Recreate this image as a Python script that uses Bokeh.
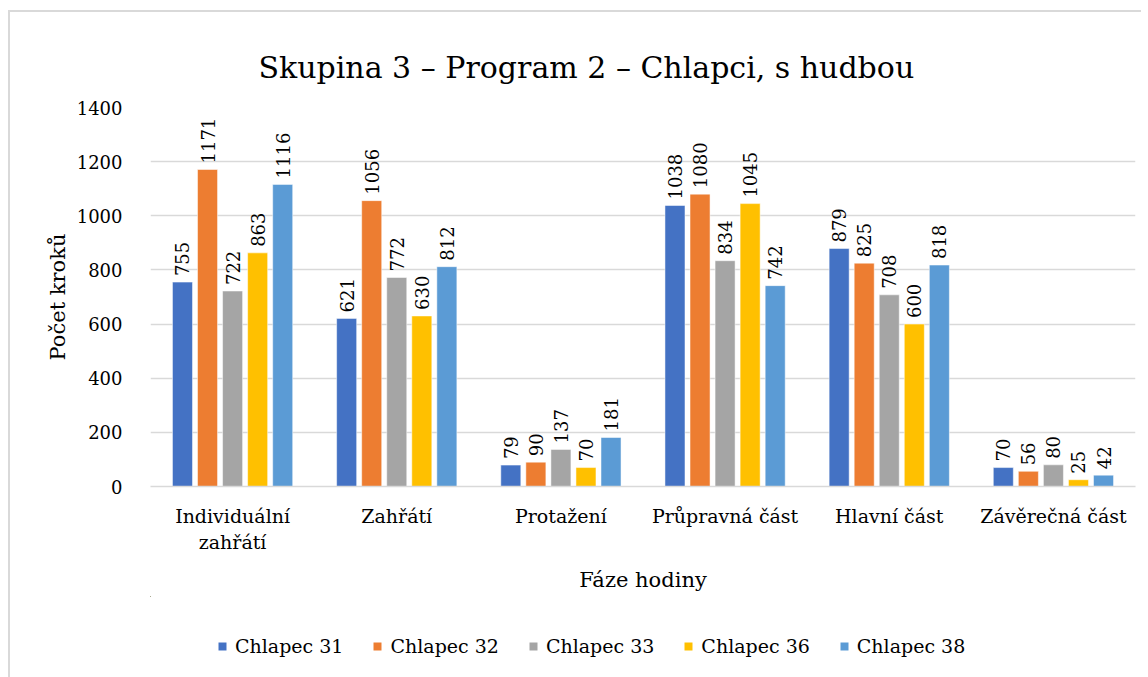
import math
from bokeh.plotting import figure
from bokeh.layouts import column
from bokeh.models import Range1d, FixedTicker, Legend, LegendItem, ColumnDataSource
from bokeh.core.properties import value
from bokeh.embed import file_html
from bokeh.resources import INLINE

categories = ["Individuální\nzahřátí", "Zahřátí", "Protažení", "Průpravná část", "Hlavní část", "Závěrečná část"]
series_names = ["Chlapec 31", "Chlapec 32", "Chlapec 33", "Chlapec 36", "Chlapec 38"]
chlapec_31 = [755, 621, 79, 1038, 879, 70]
chlapec_32 = [1171, 1056, 90, 1080, 825, 56]
chlapec_33 = [722, 772, 137, 834, 708, 80]
chlapec_36 = [863, 630, 70, 1045, 600, 25]
chlapec_38 = [1116, 812, 181, 742, 818, 42]
series_values = [chlapec_31, chlapec_32, chlapec_33, chlapec_36, chlapec_38]
colors = ["#4472C4", "#ED7D31", "#A5A5A5", "#FFC000", "#5B9BD5"]
y_ticks = [0, 200, 400, 600, 800, 1000, 1200, 1400]

FONT = "DejaVu Serif"

p = figure(frame_width=983, frame_height=377, output_backend="svg", toolbar_location=None,
           x_range=Range1d(0, len(categories)), y_range=Range1d(0, 1400),
           min_border_left=140, min_border_right=8, min_border_top=95, min_border_bottom=112)
p.styles = {"margin-left": "8px", "margin-top": "10px",
            "border-top": "2px solid #d9d9d9", "border-left": "2px solid #d9d9d9"}

p.title.text = "Skupina 3 – Program 2 – Chlapci, s hudbou"
p.title.text_font = FONT
p.title.text_font_size = "30px"
p.title.text_font_style = "normal"
p.title.align = "left"
p.title.offset = 108
p.title.standoff = 46
p.title.text_color = "#000000"

p.outline_line_color = None
p.xgrid.grid_line_color = None
p.ygrid.grid_line_color = "#d9d9d9"
p.ygrid.grid_line_width = 1.5

p.yaxis.ticker = FixedTicker(ticks=y_ticks)
p.yaxis.axis_line_color = None
p.yaxis.major_tick_line_color = None
p.yaxis.minor_tick_line_color = None
p.yaxis.major_label_text_font = FONT
p.yaxis.major_label_text_font_size = "18px"
p.yaxis.major_label_text_color = "#000000"
p.yaxis.major_label_standoff = 22
p.yaxis.axis_label = "Počet kroků"
p.yaxis.axis_label_text_font = FONT
p.yaxis.axis_label_text_font_size = "21px"
p.yaxis.axis_label_text_font_style = "normal"
p.yaxis.axis_label_text_color = "#000000"
p.yaxis.axis_label_standoff = 4

centers = [i + 0.5 for i in range(len(categories))]
p.xaxis.ticker = FixedTicker(ticks=centers)
p.xaxis.major_label_overrides = {c: lab for c, lab in zip(centers, categories)}
p.xaxis.axis_line_color = "#d9d9d9"
p.xaxis.axis_line_width = 1.5
p.xaxis.major_tick_line_color = None
p.xaxis.minor_tick_line_color = None
p.xaxis.major_label_text_font = FONT
p.xaxis.major_label_text_font_size = "19px"
p.xaxis.major_label_text_color = "#000000"
p.xaxis.major_label_standoff = 12
p.xaxis.axis_label = "Fáze hodiny"
p.xaxis.axis_label_text_font = FONT
p.xaxis.axis_label_text_font_size = "21px"
p.xaxis.axis_label_text_font_style = "normal"
p.xaxis.axis_label_text_color = "#000000"
p.xaxis.axis_label_standoff = 12

# legend strip below the chart (own figure so that the legend is not clipped)
leg = figure(width=1131, height=81, output_backend="svg", toolbar_location=None,
             x_range=Range1d(100, 101), y_range=Range1d(-2, -1),
             x_axis_location=None, y_axis_location=None, min_border=0)
leg.styles = {"margin-left": "8px", "border-left": "2px solid #d9d9d9"}
leg.outline_line_color = None
leg.xgrid.grid_line_color = None
leg.ygrid.grid_line_color = None

step = 0.1526
bw = 0.122
items = []
for j, (name, vals, col) in enumerate(zip(series_names, series_values, colors)):
    xs = [c + (j - 2) * step for c in centers]
    src = ColumnDataSource(dict(x=xs, top=vals, lab=[str(v) for v in vals]))
    p.vbar(x="x", top="top", width=bw, bottom=0, source=src, fill_color=col, line_color="white", line_width=0.5)
    p.text(x="x", y="top", text="lab", source=src, angle=math.pi / 2, text_align="left",
           text_baseline="middle", y_offset=-6, text_font=value(FONT), text_font_size="18px",
           text_color="#000000")
    r = leg.vbar(x="x", top="top", width=bw, bottom=0, source=src, fill_color=col, line_color=None)
    items.append(LegendItem(label=name, renderers=[r]))

legend = Legend(items=items, orientation="horizontal", border_line_color=None,
                glyph_width=10, glyph_height=10, spacing=29, label_standoff=8,
                background_fill_alpha=0, location=(67, 20), margin=0, padding=0,
                label_text_font=FONT, label_text_font_size="19px", label_text_color="#000000")
leg.add_layout(legend, "center")

layout = column(p, leg, spacing=0)
open("out.html", "w").write(file_html(layout, INLINE))
